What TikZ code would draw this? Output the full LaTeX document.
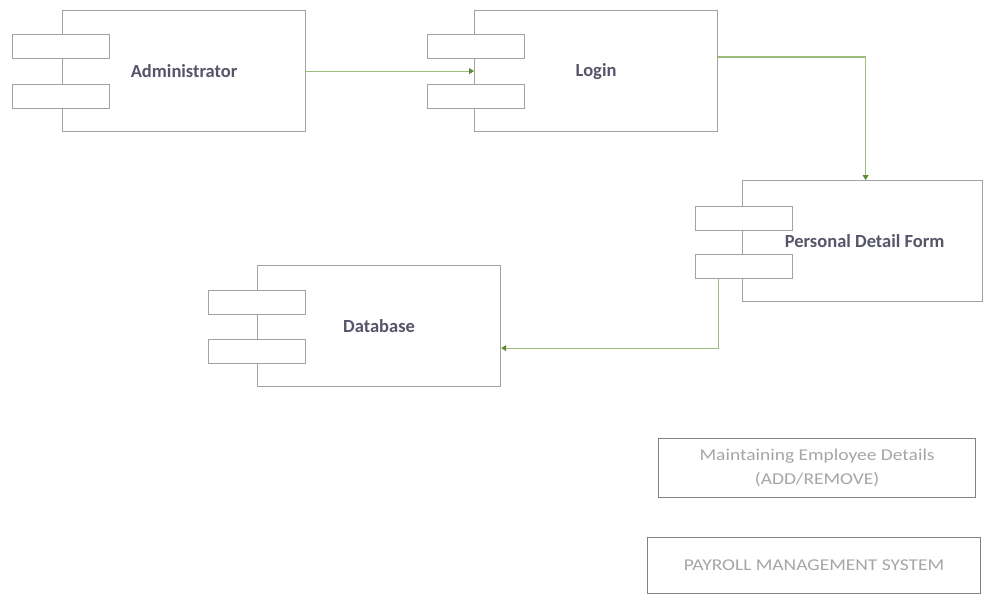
\documentclass[tikz,border=0pt]{standalone}
\usepackage{fontspec}
\setmainfont{Carlito}
\newfontfamily\notefont[FakeStretch=1.18]{Carlito}
\usetikzlibrary{arrows.meta,calc}
\definecolor{edgegray}{HTML}{A2A2A2}
\definecolor{labelink}{HTML}{55556A}
\definecolor{noteink}{HTML}{A6A6A6}
\definecolor{linkgreen}{HTML}{9DBB7C}
\definecolor{tipgreen}{HTML}{5E8C34}
\tikzset{
  compbody/.style={draw=edgegray, line width=1.2pt, fill=white, inner sep=0pt,
    minimum width=243pt, minimum height=121pt, anchor=north west,
    font=\fontsize{18.5}{22}\selectfont\bfseries, text=labelink},
  port/.style={draw=edgegray, line width=1.2pt, fill=white, inner sep=0pt,
    minimum width=97pt, minimum height=24pt, anchor=north west},
  notebox/.style={draw=edgegray!80!black, line width=1.2pt, fill=white, inner sep=0pt,
    anchor=north west, font=\notefont\fontsize{16.5}{24}\selectfont, text=noteink, align=center},
  conn/.style={draw=linkgreen, line width=1.1pt,
    -{Triangle[width=6pt,length=5pt,fill=tipgreen,color=tipgreen]}},
}
\begin{document}
\begin{tikzpicture}[x=1pt,y=-1pt]
  \useasboundingbox (0,0) rectangle (983,598);

  % Administrator component
  \node[compbody] (admin) at (62,10) {Administrator};
  \node[port] (admin-p1) at (12,34) {};
  \node[port] (admin-p2) at (12,84) {};

  % Login component
  \node[compbody] (login) at (474,10) {Login};
  \node[port] (login-p1) at (427,34) {};
  \node[port] (login-p2) at (427,84) {};

  % Personal Detail Form component
  \node[compbody, minimum width=240pt] (pdf) at (742,180) {\hspace*{4pt}Personal Detail Form};
  \node[port] (pdf-p1) at (695,206) {};
  \node[port] (pdf-p2) at (695,254) {};

  % Database component
  \node[compbody] (db) at (257,265) {Database};
  \node[port] (db-p1) at (208,290) {};
  \node[port] (db-p2) at (208,339) {};

  % Notes
  \node[notebox, minimum width=317pt, minimum height=59pt] (note) at (658,438)
    {Maintaining Employee Details\\(ADD/REMOVE)};
  \node[notebox, minimum width=333pt, minimum height=56pt] (title) at (647,537)
    {PAYROLL MANAGEMENT SYSTEM};

  % Connectors
  \draw[conn] (admin.east) -- (login.west);
  \draw[conn] ($(login.north east)+(0,47)$) -| ($(pdf.north)+(3,0)$);
  \draw[conn] ([xshift=-26pt]pdf-p2.south) |- ([yshift=-22pt]db.east);
\end{tikzpicture}
\end{document}
